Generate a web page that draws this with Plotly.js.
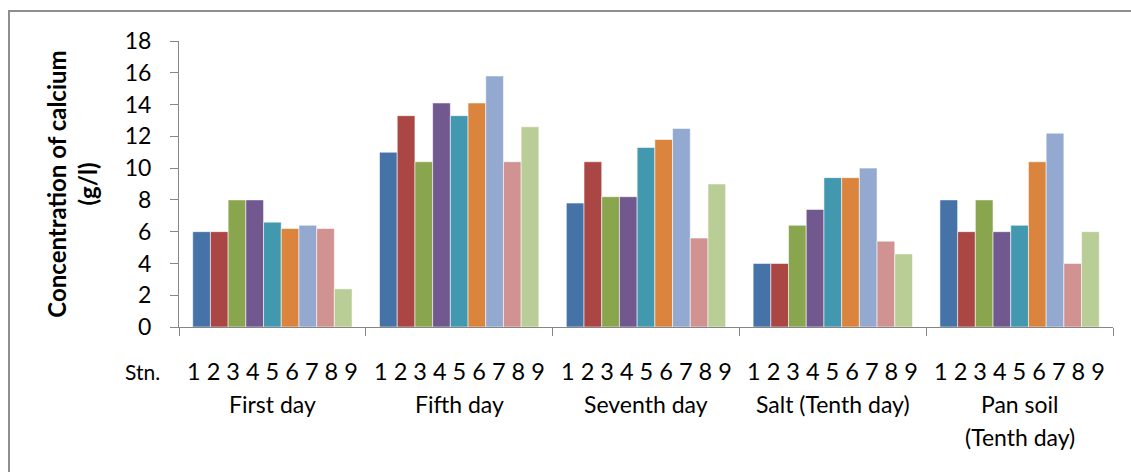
<!DOCTYPE html>
<html><head><meta charset="utf-8">
<script src="https://cdn.plot.ly/plotly-3.0.1.min.js"></script>
<style>
html,body{margin:0;padding:0;background:#fff;overflow:hidden;width:1131px;height:472px;}
#chart{position:absolute;left:0;top:0;width:1131px;height:472px;}
#frame{position:absolute;left:8px;top:10px;width:1300px;height:700px;border:2px solid #8e8e8e;box-sizing:border-box;pointer-events:none;}
</style></head><body>
<div id="chart"></div>
<div id="frame"></div>
<script>
// Categories (groups) and stations (series)
const categories = ["First day", "Fifth day", "Seventh day", "Salt (Tenth day)", "Pan soil (Tenth day)"];
const labelLine1 = ["First day", "Fifth day", "Seventh day", "Salt (Tenth day)", "Pan soil"];
const labelLine2 = ["", "", "", "", "(Tenth day)"];
const stations = ["1", "2", "3", "4", "5", "6", "7", "8", "9"];

// Concentration of calcium (g/l), stations 1..9 in each group
const firstDay   = [6.0, 6.0, 8.0, 8.0, 6.6, 6.2, 6.4, 6.2, 2.4];
const fifthDay   = [11.0, 13.3, 10.4, 14.1, 13.3, 14.1, 15.8, 10.4, 12.6];
const seventhDay = [7.8, 10.4, 8.2, 8.2, 11.3, 11.8, 12.5, 5.6, 9.0];
const saltTenth  = [4.0, 4.0, 6.4, 7.4, 9.4, 9.4, 10.0, 5.4, 4.6];
const panSoilTenth = [8.0, 6.0, 8.0, 6.0, 6.4, 10.4, 12.2, 4.0, 6.0];

const yTicks = [0, 2, 4, 6, 8, 10, 12, 14, 16, 18];

const colors = ["#4572A7", "#AA4643", "#89A54E", "#71588F", "#4198AF", "#DB843D", "#93A9CF", "#D19392", "#B9CD96"];

const groups = [firstDay, fifthDay, seventhDay, saltTenth, panSoilTenth];

const FONT = "Lato, 'Open Sans', sans-serif";

const traces = stations.map((s, i) => ({
  type: "bar",
  name: "Stn. " + s,
  x: categories,
  y: groups.map(g => g[i]),
  marker: {color: colors[i], line: {color: "rgba(255,255,255,0.55)", width: 1}},
  hoverinfo: "x+y+name"
}));

const annotations = [];
categories.forEach((c, k) => {
  annotations.push({
    xref: "x", yref: "paper", x: c, y: 0, yanchor: "middle", xanchor: "center",
    yshift: -44, showarrow: false, text: stations.join(" "),
    font: {family: FONT, size: 23.5, color: "#000"}
  });
  annotations.push({
    xref: "x", yref: "paper", x: c, y: 0, yanchor: "middle", xanchor: "center",
    yshift: -77, showarrow: false, text: labelLine1[k],
    font: {family: FONT, size: 23, color: "#000"}
  });
  if (labelLine2[k]) {
    annotations.push({
      xref: "x", yref: "paper", x: c, y: 0, yanchor: "middle", xanchor: "center",
      yshift: -110, showarrow: false, text: labelLine2[k],
      font: {family: FONT, size: 23, color: "#000"}
    });
  }
});
annotations.push({
  xref: "paper", yref: "paper", x: 0, y: 0, xanchor: "right", yanchor: "middle",
  xshift: -17, yshift: -44, showarrow: false, text: "Stn.",
  font: {family: FONT, size: 21, color: "#000"}
});

const layout = {
  width: 1131, height: 472,
  margin: {l: 179, r: 18, t: 41, b: 145},
  paper_bgcolor: "rgba(0,0,0,0)", plot_bgcolor: "rgba(0,0,0,0)",
  barmode: "group", bargap: 0.147, bargroupgap: 0,
  showlegend: false,
  font: {family: FONT, color: "#000"},
  xaxis: {
    type: "category", showticklabels: false,
    tickson: "boundaries", ticks: "outside", ticklen: 8, tickcolor: "#868686",
    showline: true, linecolor: "#868686", linewidth: 1,
    showgrid: false, zeroline: false, range: [-0.5, 4.5]
  },
  yaxis: {
    range: [0, 18], tickvals: yTicks, ticks: "outside", ticklen: 8, tickcolor: "#868686",
    showline: true, linecolor: "#868686", linewidth: 1,
    showgrid: false, zeroline: false,
    tickfont: {family: FONT, size: 23, color: "#000"},
    ticklabelstandoff: 14,
    title: {text: "Concentration of calcium<br>(g/l)", font: {family: FONT, size: 24, color: "#000", weight: "bold"}, standoff: 20},
    automargin: false
  },
  annotations: annotations
};

Plotly.newPlot("chart", traces, layout, {displayModeBar: false, staticPlot: true});
</script>
</body></html>
